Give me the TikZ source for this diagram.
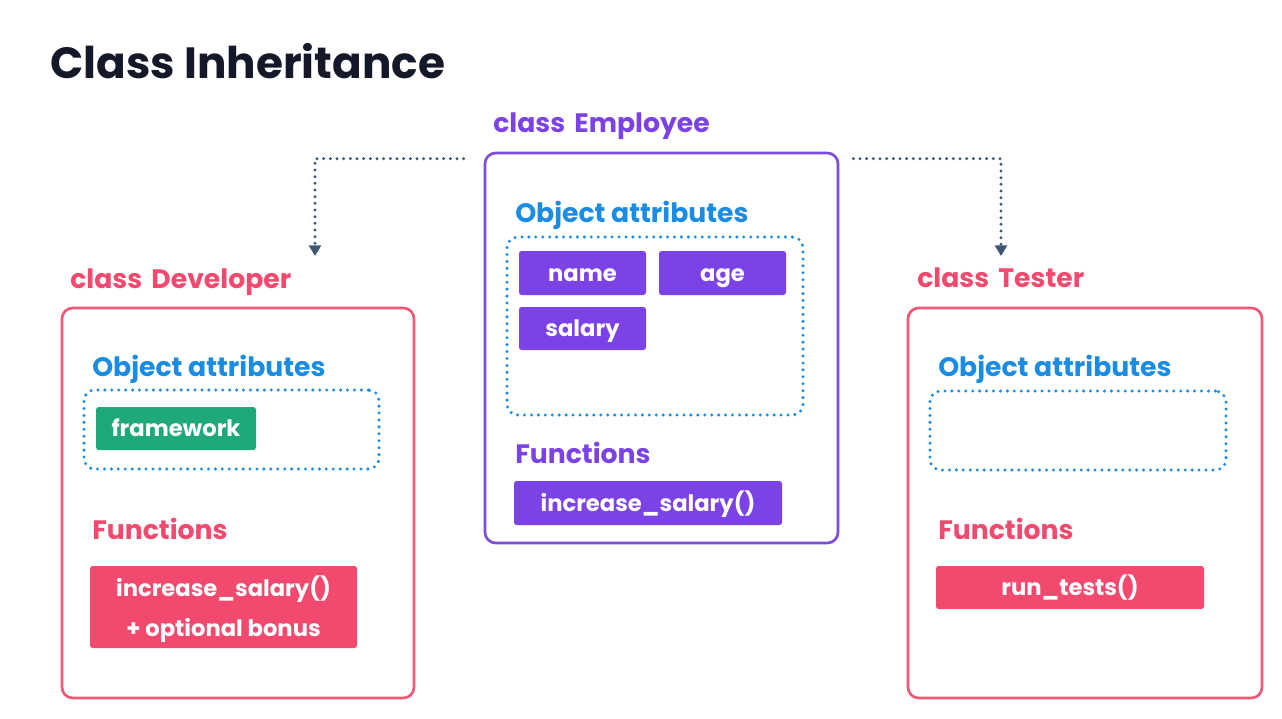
\documentclass[tikz,border=0pt]{standalone}
\usepackage{fontspec}
\setmainfont{Poppins}
\usetikzlibrary{fit,arrows.meta,calc}
\definecolor{purp}{HTML}{7B42E6}
\definecolor{purpline}{HTML}{7C4DDB}
\definecolor{pinkc}{HTML}{F24A6E}
\definecolor{pinkline}{HTML}{EE5A75}
\definecolor{bluec}{HTML}{1A8CE3}
\definecolor{greenc}{HTML}{1FA97A}
\definecolor{arrowc}{HTML}{3E5673}
\definecolor{titlec}{HTML}{141828}
\begin{document}
\begin{tikzpicture}[x=0.75pt,y=-0.75pt,
  classbox/.style={draw, line width=2pt, rounded corners=8pt, inner sep=0pt},
  attrbox/.style={draw=bluec, line width=2.5pt, dash pattern=on 0pt off 5.2pt, line cap=round, rounded corners=8pt, inner sep=0pt},
  fillbox/.style={rounded corners=2pt, inner sep=0pt},
  boxtext/.style={inner sep=0pt, text=white, font=\bfseries\fontsize{17}{30}\selectfont, align=center},
  lbl/.style={anchor=base west, inner sep=0pt, font=\bfseries\fontsize{20}{22}\selectfont},
  inh/.style={draw=arrowc, line width=2.4pt, dash pattern=on 0pt off 5pt, line cap=round, -{Triangle[length=8pt,width=9pt]}}
]
\useasboundingbox (0,0) rectangle (1282,718);
\fill[white] (0,0) rectangle (1282,718);

\node[anchor=base west, inner sep=0pt, text=titlec, font=\bfseries\fontsize{32.8}{40}\selectfont] (title) at (50,78) {Class Inheritance};

% Employee
\node[lbl, text=purp] (emplbl) at (493,132) {class\hspace{0.35em}Employee};
\node[classbox, draw=purpline, fit={(485,153) (838,543)}] (emp) {};
\node[lbl, text=bluec] (empoa) at (515,222) {Object attributes};
\node[attrbox, fit={(507,237) (803,415)}] (empattr) {};
\node[fillbox, fill=purp, fit={(519,251) (646,295)}] (name) {};
\node[boxtext, anchor=base] at ($(name.center)+(0,8)$) {name};
\node[fillbox, fill=purp, fit={(659,251) (786,295)}] (age) {};
\node[boxtext, anchor=base] at ($(age.center)+(0,8)$) {age};
\node[fillbox, fill=purp, fit={(519,307) (646,350)}] (salary) {};
\node[boxtext, anchor=base] at ($(salary.center)+(0,8)$) {salary};
\node[lbl, text=purp] (empfn) at (515,463) {Functions};
\node[fillbox, fill=purp, fit={(514,481) (782,525)}] (empinc) {};
\node[boxtext, anchor=base] at ($(empinc.center)+(0,8)$) {increase\_salary()};

% Developer
\node[lbl, text=pinkc] (devlbl) at (70,288) {class\hspace{0.35em}Developer};
\node[classbox, draw=pinkline, fit={(62,308) (414,698)}] (dev) {};
\node[lbl, text=bluec] (devoa) at (92,376) {Object attributes};
\node[attrbox, fit={(84,390) (379,469)}] (devattr) {};
\node[fillbox, fill=greenc, fit={(96,407) (256,450)}] (framework) {};
\node[boxtext, anchor=base] at ($(framework.center)+(0,8)$) {framework};
\node[lbl, text=pinkc] (devfn) at (92,539) {Functions};
\node[fillbox, fill=pinkc, fit={(90,566) (357,648)}] (devinc) {};
\node[boxtext] at ($(devinc.center)+(0,2)$) {increase\_salary()\\+ optional bonus};

% Tester
\node[lbl, text=pinkc] (tstlbl) at (917,287) {class\hspace{0.35em}Tester};
\node[classbox, draw=pinkline, fit={(908,308) (1262,698)}] (tst) {};
\node[lbl, text=bluec] (tstoa) at (938,376) {Object attributes};
\node[attrbox, fit={(930,391) (1226,470)}] (tstattr) {};
\node[lbl, text=pinkc] (tstfn) at (938,539) {Functions};
\node[fillbox, fill=pinkc, fit={(936,566) (1204,609)}] (runtests) {};
\node[boxtext, anchor=base] at ($(runtests.center)+(0,8)$) {run\_tests()};

% inheritance connectors
\coordinate (startL) at ($(emp.north west)+(-20,7)$);
\coordinate (startR) at ($(emp.north east)+(14,7)$);
\coordinate (endL) at (315,256);
\coordinate (endR) at (1001,256);
\draw[inh] (startL) -| (endL);
\draw[inh] (startR) -| (endR);
\end{tikzpicture}
\end{document}
